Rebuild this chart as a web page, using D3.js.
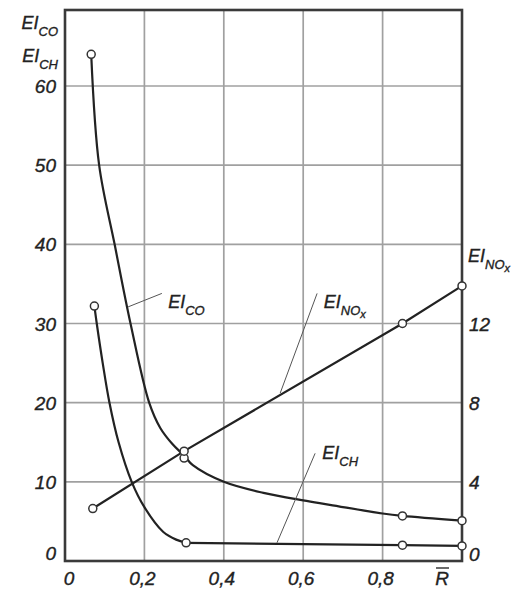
<!DOCTYPE html>
<html>
<head>
<meta charset="utf-8">
<script src="https://cdn.jsdelivr.net/npm/d3@7"></script>
<style>
  body { margin: 0; background: #fff; }
  text { font-family: "Liberation Sans", Arial, sans-serif; font-style: italic; fill: #222; stroke: #222; stroke-width: 0.35px; }
</style>
</head>
<body>
<script>
// values (x = R-bar, left axis = EI_CO / EI_CH, right axis = EI_NOx)
var xTicks = [0, 0.2, 0.4, 0.6, 0.8];
var xTickLabels = ['0', '0,2', '0,4', '0,6', '0,8'];
var leftTicks = [0, 10, 20, 30, 40, 50, 60];
var rightTicks = [0, 4, 8, 12];

// measured points (circles)
var coPoints = [[0.066, 64], [0.3, 13.0], [0.85, 5.7], [1.0, 5.1]];
var chPoints = [[0.074, 32.2], [0.305, 2.3], [0.85, 2.0], [1.0, 1.9]];
var noxPoints = [[0.07, 2.65], [0.3, 5.55], [0.85, 12.0], [1.0, 13.9]];

// smooth curves
var coCurve = [[0.066, 64], [0.086, 50], [0.125, 40], [0.165, 30], [0.212, 20], [0.24, 16.8],
  [0.27, 14.8], [0.3, 13.3], [0.322, 12.1], [0.4, 10.0], [0.5, 8.6], [0.6, 7.65], [0.667, 7.1],
  [0.8, 6.0], [0.85, 5.7], [1.0, 5.1]];
var chCurve = [[0.074, 32.2], [0.08, 30], [0.095, 25], [0.112, 20], [0.135, 15], [0.168, 10],
  [0.2, 6.8], [0.247, 3.7], [0.28, 2.7], [0.305, 2.3]];

var options = {
  width: 525,
  height: 589,
  left: 65,
  right: 462,
  top: 10,
  bottom: 561
};

var svg = d3.select('body').append('svg')
  .attr('width', options.width)
  .attr('height', options.height);

var x = d3.scaleLinear().domain([0, 1]).range([options.left, options.right]);
var y = d3.scaleLinear().domain([0, 69.6]).range([options.bottom, options.top]);
var yR = d3.scaleLinear().domain([0, 69.6 / 2.5]).range([options.bottom, options.top]);

// grid
svg.selectAll('.vgrid').data(xTicks.slice(1)).enter().append('line')
  .attr('x1', function(d) { return x(d); }).attr('x2', function(d) { return x(d); })
  .attr('y1', options.top).attr('y2', options.bottom)
  .attr('stroke', '#a0a0a0').attr('stroke-width', 1.7);
svg.selectAll('.hgrid').data(leftTicks.slice(1)).enter().append('line')
  .attr('x1', options.left).attr('x2', options.right)
  .attr('y1', function(d) { return y(d); }).attr('y2', function(d) { return y(d); })
  .attr('stroke', '#a0a0a0').attr('stroke-width', 1.7);

// frame
svg.append('rect')
  .attr('x', options.left).attr('y', options.top)
  .attr('width', options.right - options.left).attr('height', options.bottom - options.top)
  .attr('fill', 'none').attr('stroke', '#3a3a3a').attr('stroke-width', 2.6);

// tick labels
svg.selectAll('.xl').data(xTicks).enter().append('text')
  .attr('x', function(d) { return x(d) + (d === 0 ? 4 : -2); })
  .attr('y', 585)
  .attr('text-anchor', 'middle')
  .style('font-size', '19px')
  .text(function(d, i) { return xTickLabels[i]; });

svg.selectAll('.yl').data(leftTicks).enter().append('text')
  .attr('x', 56)
  .attr('y', function(d) { return y(d) + (d === 0 ? -1 : 7); })
  .attr('text-anchor', 'end')
  .style('font-size', '19px')
  .text(function(d) { return d; });

svg.selectAll('.yr').data(rightTicks).enter().append('text')
  .attr('x', 469)
  .attr('y', function(d) { return yR(d) + (d === 0 ? 0 : 7); })
  .style('font-size', '19px')
  .text(function(d) { return d; });

// R-bar
svg.append('text').attr('x', 442).attr('y', 585)
  .attr('text-anchor', 'middle').style('font-size', '19px').text('R');
svg.append('line').attr('x1', 436).attr('x2', 449).attr('y1', 568).attr('y2', 568)
  .attr('stroke', '#2a2a2a').attr('stroke-width', 1.4);

// EI label helper: main text plus subscript
var eiLabel = function(px, py, sub, anchor, extra) {
  var t = svg.append('text').attr('x', px).attr('y', py)
    .attr('text-anchor', anchor || 'start')
    .style('font-size', '18px');
  t.append('tspan').text('EI');
  t.append('tspan').attr('dy', 7).style('font-size', '13px').text(sub);
  if (extra) {
    t.append('tspan').attr('dy', 3).style('font-size', '11px').text(extra);
  }
  return t;
};

// axis titles
eiLabel(58, 29, 'CO', 'end');
eiLabel(58, 62, 'CH', 'end');
eiLabel(468, 262, 'NO', 'start', 'x');

// curves
var smooth = d3.line()
  .x(function(d) { return x(d[0]); })
  .y(function(d) { return y(d[1]); })
  .curve(d3.curveCatmullRom.alpha(0.5));
var line = d3.line()
  .x(function(d) { return x(d[0]); })
  .y(function(d) { return y(d[1]); });
var lineR = d3.line()
  .x(function(d) { return x(d[0]); })
  .y(function(d) { return yR(d[1]); });

svg.append('path').datum(coCurve).attr('d', smooth)
  .attr('fill', 'none').attr('stroke', '#222').attr('stroke-width', 2.2);
svg.append('path').datum(chCurve).attr('d', smooth)
  .attr('fill', 'none').attr('stroke', '#222').attr('stroke-width', 2.2);
// flat tail of the CH curve runs straight between the measured points
svg.append('path').datum(chPoints.slice(1)).attr('d', line)
  .attr('fill', 'none').attr('stroke', '#222').attr('stroke-width', 2.2);
svg.append('path').datum(noxPoints).attr('d', lineR)
  .attr('fill', 'none').attr('stroke', '#222').attr('stroke-width', 2.2);

// leader lines and in-plot labels (positions in data units)
var leaders = [
  { from: [0.159, 32.1], to: [0.244, 33.8], at: [0.26, 32.0], sub: 'CO', extra: null },
  { from: [0.542, 21.2], to: [0.635, 33.8], at: [0.652, 32.0], sub: 'NO', extra: 'x' },
  { from: [0.534, 2.3], to: [0.63, 13.6], at: [0.648, 12.9], sub: 'CH', extra: null }
];
leaders.forEach(function(l) {
  svg.append('line')
    .attr('x1', x(l.from[0])).attr('y1', y(l.from[1]))
    .attr('x2', x(l.to[0])).attr('y2', y(l.to[1]))
    .attr('stroke', '#555').attr('stroke-width', 1);
  eiLabel(x(l.at[0]), y(l.at[1]), l.sub, 'start', l.extra);
});

// circles
var drawPoints = function(data, scaleY) {
  svg.selectAll(null).data(data).enter().append('circle')
    .attr('cx', function(d) { return x(d[0]); })
    .attr('cy', function(d) { return scaleY(d[1]); })
    .attr('r', 4)
    .attr('fill', '#fff')
    .attr('stroke', '#333')
    .attr('stroke-width', 1.5);
};
drawPoints(coPoints, y);
drawPoints(chPoints, y);
drawPoints(noxPoints, yR);
</script>
</body>
</html>
